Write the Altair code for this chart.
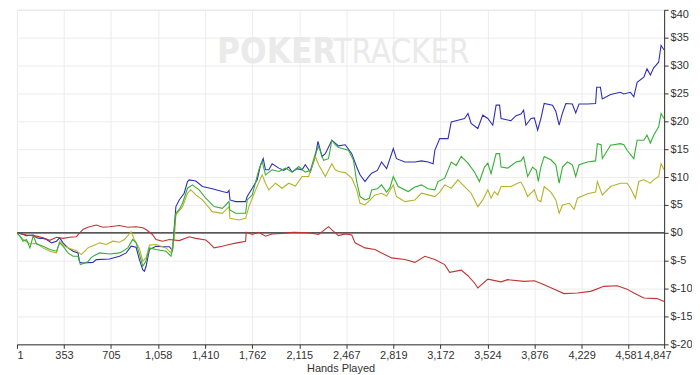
import altair as alt
import pandas as pd

# ---- data ----
blue_hands = [1, 48, 73, 123, 148, 172, 197, 222, 260, 297, 321, 346, 383, 421, 458, 471, 495, 570, 595, 694,
              769, 819, 856, 893, 918, 943, 955, 968, 993, 1042, 1092, 1142, 1166, 1179, 1191, 1216, 1253, 1278,
              1291, 1340, 1390, 1464, 1539, 1576, 1589, 1596, 1638, 1713, 1725, 1763, 1800, 1825, 1845, 1862,
              1887, 1912, 1962, 1999, 2036, 2061, 2098, 2136, 2160, 2198, 2235, 2255, 2285, 2310, 2359, 2384,
              2409, 2459, 2508, 2545, 2570, 2607, 2632, 2657, 2700, 2731, 2769, 2794, 2819, 2843, 2906, 2981,
              3030, 3080, 3117, 3130, 3167, 3229, 3253, 3303, 3353, 3378, 3402, 3452, 3489, 3527, 3564, 3589,
              3615, 3626, 3700, 3738, 3775, 3795, 3812, 3850, 3875, 3900, 3924, 3949, 4011, 4036, 4061, 4086,
              4111, 4160, 4185, 4210, 4272, 4334, 4342, 4370, 4384, 4446, 4520, 4545, 4595, 4620, 4645, 4695,
              4719, 4744, 4769, 4806, 4824, 4847]
blue_vals = [0, -0.3, -0.5, -0.4, -0.9, -1.0, -1.0, -1.2, -1.8, -1.5, -0.9, -1.8, -2.7, -3.3, -3.6, -5.3, -5.4,
             -5.3, -4.8, -4.7, -4.2, -3.6, -2.4, -2.6, -4.8, -6.6, -6.9, -6.0, -3.0, -2.4, -2.5, -2.5, -3.2, 1.0,
             4.7, 5.9, 7.1, 9.2, 9.5, 9.3, 8.3, 7.9, 7.4, 7.2, 7.6, 5.9, 5.6, 5.6, 6.5, 8.0, 9.5, 12.2, 13.3,
             11.3, 11.3, 12.4, 11.6, 11.2, 11.8, 10.9, 11.5, 11.3, 12.2, 10.9, 13.7, 16.4, 13.7, 14.2, 16.6,
             16.1, 15.6, 15.8, 14.2, 11.8, 10.4, 9.2, 10.0, 10.7, 11.2, 12.7, 11.5, 13.3, 15.1, 13.3, 12.7,
             12.7, 12.9, 12.7, 12.4, 14.8, 16.9, 16.9, 19.9, 20.2, 20.5, 21.4, 19.6, 18.7, 21.1, 20.5, 19.3,
             22.9, 22.9, 20.5, 20.1, 21.0, 21.3, 22.0, 19.3, 20.5, 20.6, 18.4, 20.5, 23.2, 22.9, 21.8, 19.3,
             21.5, 23.2, 23.1, 21.5, 23.1, 23.1, 23.2, 26.1, 26.1, 24.0, 24.8, 25.2, 24.9, 25.2, 24.4, 27.0,
             27.9, 29.4, 28.3, 29.6, 30.6, 33.6, 32.8]

green_hands = [1, 23, 48, 73, 98, 123, 148, 197, 247, 297, 321, 346, 383, 421, 458, 476, 532, 558, 595, 620,
               694, 769, 793, 831, 868, 893, 923, 943, 968, 993, 1042, 1117, 1154, 1166, 1179, 1191, 1216, 1241,
               1278, 1315, 1365, 1415, 1477, 1539, 1589, 1594, 1638, 1713, 1725, 1763, 1812, 1837, 1862, 1912,
               1962, 2011, 2061, 2111, 2160, 2198, 2235, 2260, 2297, 2334, 2359, 2384, 2409, 2484, 2521, 2545,
               2570, 2607, 2640, 2657, 2700, 2731, 2769, 2794, 2819, 2856, 2931, 2981, 3030, 3080, 3130, 3154,
               3204, 3253, 3290, 3328, 3378, 3427, 3464, 3502, 3527, 3551, 3589, 3615, 3626, 3676, 3738, 3775,
               3795, 3825, 3862, 3890, 3905, 3924, 3949, 3999, 4036, 4061, 4086, 4123, 4160, 4185, 4210, 4272,
               4334, 4347, 4375, 4384, 4446, 4520, 4545, 4570, 4620, 4645, 4695, 4719, 4744, 4769, 4806, 4824,
               4847]
green_vals = [0, -0.6, -1.5, -1.2, -2.7, -0.5, -2.0, -2.4, -3.0, -3.3, -1.8, -2.4, -3.6, -4.2, -4.2, -5.7, -5.2,
              -4.4, -3.9, -3.6, -3.8, -3.6, -3.3, -2.7, -1.2, -1.8, -4.2, -6.0, -5.0, -2.7, -3.0, -3.3, -4.2,
              -3.0, 0.6, 3.5, 4.2, 5.3, 8.0, 8.6, 7.7, 6.2, 4.7, 4.4, 5.6, 4.1, 3.5, 3.5, 5.9, 6.8, 11.3, 12.8,
              10.4, 11.3, 11.0, 11.6, 10.9, 11.9, 10.9, 11.2, 14.2, 15.5, 13.0, 13.3, 16.6, 15.8, 15.3, 14.8,
              13.0, 9.2, 6.5, 5.9, 6.2, 7.7, 7.9, 8.6, 7.3, 8.1, 10.1, 8.3, 7.4, 8.2, 8.6, 7.9, 7.7, 9.2, 9.8,
              12.7, 12.1, 13.7, 12.5, 10.9, 9.2, 11.8, 12.5, 10.6, 14.2, 14.2, 11.8, 11.6, 12.7, 12.9, 13.6,
              10.1, 11.8, 11.2, 9.2, 11.8, 13.7, 13.1, 12.2, 8.9, 11.8, 12.7, 12.2, 10.1, 12.2, 12.7, 12.9,
              16.0, 15.8, 13.3, 15.7, 16.0, 15.8, 14.8, 13.3, 16.6, 16.6, 17.5, 16.1, 17.5, 19.0, 21.4, 20.5]

olive_hands = [1, 48, 98, 148, 197, 247, 297, 321, 360, 396, 446, 483, 532, 570, 620, 670, 719, 769, 806, 856,
               880, 918, 943, 968, 993, 1042, 1117, 1154, 1179, 1191, 1241, 1278, 1303, 1340, 1390, 1464, 1539,
               1589, 1596, 1663, 1713, 1738, 1788, 1837, 1862, 1887, 1937, 1986, 2036, 2086, 2136, 2185, 2235,
               2260, 2310, 2359, 2384, 2409, 2459, 2508, 2545, 2570, 2607, 2645, 2682, 2731, 2769, 2819, 2843,
               2906, 2981, 3030, 3080, 3130, 3167, 3204, 3253, 3303, 3353, 3402, 3452, 3489, 3527, 3551, 3576,
               3601, 3626, 3700, 3750, 3775, 3800, 3825, 3875, 3900, 3924, 3949, 3999, 4036, 4061, 4086, 4136,
               4173, 4198, 4272, 4334, 4347, 4384, 4446, 4520, 4570, 4595, 4632, 4657, 4695, 4744, 4769, 4806,
               4824, 4847]
olive_vals = [0, -1.2, -2.0, -1.9, -2.7, -3.3, -3.6, -1.5, -2.4, -2.8, -3.2, -3.9, -2.7, -2.3, -1.8, -2.1, -1.5,
              -1.7, -1.2, 0.2, -1.2, -2.8, -5.1, -4.5, -2.2, -2.1, -2.7, -3.6, -1.0, 3.2, 4.7, 7.1, 7.7, 6.8,
              5.9, 3.8, 3.5, 4.7, 2.6, 2.3, 2.6, 4.7, 7.7, 10.4, 8.9, 7.7, 8.9, 8.0, 8.9, 8.4, 10.1, 10.1, 13.7,
              12.2, 10.1, 12.4, 11.3, 11.0, 10.8, 9.8, 7.7, 5.3, 5.0, 5.9, 6.8, 7.1, 6.6, 8.6, 6.5, 5.6, 5.9,
              7.1, 6.8, 6.5, 7.3, 8.6, 8.0, 9.5, 8.3, 7.1, 4.7, 5.9, 7.7, 6.2, 7.4, 6.8, 8.3, 8.3, 8.9, 9.1,
              8.0, 6.5, 7.7, 5.9, 5.6, 8.3, 7.3, 5.9, 3.5, 5.0, 5.3, 4.2, 6.2, 7.0, 7.3, 9.2, 6.8, 8.3, 8.9,
              8.9, 8.0, 6.2, 9.2, 9.5, 8.9, 9.5, 10.1, 12.4, 11.3]

red_hands = [1, 73, 148, 197, 247, 297, 346, 396, 446, 471, 495, 532, 595, 645, 694, 769, 830, 893, 943, 968,
             1015, 1042, 1092, 1142, 1216, 1291, 1340, 1415, 1440, 1477, 1539, 1589, 1650, 1713, 1718, 1763,
             1812, 1862, 1912, 1986, 2073, 2185, 2260, 2334, 2384, 2409, 2459, 2508, 2533, 2607, 2682, 2731,
             2806, 2906, 2981, 3055, 3130, 3204, 3241, 3328, 3378, 3427, 3452, 3527, 3626, 3676, 3800, 3875,
             3949, 4024, 4098, 4198, 4297, 4396, 4496, 4570, 4620, 4695, 4794, 4847]
red_vals = [0, -0.4, -0.6, -0.9, -1.35, -0.8, -1.0, -0.8, -0.7, 0.0, 0.6, 1.0, 1.4, 1.0, 1.1, 1.3, 1.0, 1.1, 0.9,
            0.6, -0.3, -1.2, -1.5, -1.2, -1.4, -0.7, -1.0, -1.3, -1.8, -2.7, -2.4, -2.1, -1.8, -1.5, 0.1, -0.3,
            0.1, -0.6, -0.2, -0.1, 0.1, 0.0, -0.3, 1.1, 0.0, -0.5, -0.2, -0.4, -1.8, -2.7, -3.0, -3.6, -4.5,
            -4.8, -5.3, -4.2, -4.8, -5.7, -7.1, -6.7, -7.7, -9.0, -9.9, -8.3, -8.8, -8.4, -8.7, -8.6, -9.3,
            -10.1, -10.9, -10.8, -10.5, -9.6, -9.5, -10.1, -10.8, -11.7, -11.8, -12.3]

x_ticks = [1, 353, 705, 1058, 1410, 1762, 2115, 2467, 2819, 3172, 3524, 3876, 4229, 4581, 4847]
y_ticks = [-20, -15, -10, -5, 0, 5, 10, 15, 20, 25, 30, 35, 40]

series = [
    ("blue", blue_hands, blue_vals, "#2f2fb9"),
    ("olive", olive_hands, olive_vals, "#b4b42c"),
    ("green", green_hands, green_vals, "#35b035"),
    ("red", red_hands, red_vals, "#c03434"),
]

W, H = 650, 336
FONT = "Liberation Sans"

x_scale = alt.Scale(domain=[1, 4847], nice=False, zero=False)
y_scale = alt.Scale(domain=[-20, 40], nice=False)

x_axis = alt.Axis(values=x_ticks, labelExpr="format(datum.value, ',')", grid=True, gridColor="#ececec",
                  domainColor="#333333", tickColor="#333333", tickSize=4,
                  labelColor="#333333", labelFontSize=11, labelFont=FONT, labelOverlap=False,
                  labelOffset=alt.condition("datum.value == 4847", alt.value(7), alt.value(0)),
                  labelPadding=1, title="Hands Played", titleFont=FONT, titleFontSize=11,
                  titleFontWeight="normal", titleColor="#333333", titlePadding=2)
y_axis = alt.Axis(orient="right", values=y_ticks, labelExpr="'$' + datum.value", grid=True,
                  gridColor="#ececec", domainColor="#333333", tickColor="#333333", tickSize=4,
                  labelColor="#333333", labelFontSize=11, labelFont=FONT, labelPadding=2,
                  labelOverlap=False, title=None,
                  labelBaseline=alt.condition("datum.value == 40", alt.value("top"), alt.value("middle")),
                  labelOffset=alt.condition("datum.value == 40", alt.value(-1), alt.value(0)))

base_df = pd.DataFrame({"hand": [1, 4847], "value": [-20, 40]})
base = alt.Chart(base_df).mark_point(opacity=0).encode(
    x=alt.X("hand:Q", scale=x_scale, axis=x_axis),
    y=alt.Y("value:Q", scale=y_scale, axis=y_axis),
)

mark_font = "'Liberation Sans Narrow', 'DejaVu Sans Condensed', 'Arial Narrow', sans-serif"
wm_df = pd.DataFrame({"t": ["POKER"]})
wm1 = alt.Chart(wm_df).mark_text(text="POKER", font=mark_font, fontSize=35, fontWeight="bold",
                                  color="#eaeaea", align="left", baseline="alphabetic").encode(
    x=alt.value(201), y=alt.value(53))
wm2 = alt.Chart(wm_df).mark_text(text="TRACKER", font=mark_font, fontSize=33, fontWeight="normal",
                                  color="#eaeaea", align="left", baseline="alphabetic").encode(
    x=alt.value(318), y=alt.value(53))

layers = [base, wm1, wm2]

zero = alt.Chart(pd.DataFrame({"v": [0]})).mark_rule(color="#222222", strokeWidth=1.2).encode(
    y=alt.Y("v:Q", scale=y_scale, axis=y_axis))
layers.append(zero)

for name, hs, vs, col in series:
    df = pd.DataFrame({"hand": hs, "value": vs})
    layers.append(
        alt.Chart(df).mark_line(color=col, strokeWidth=1.1, clip=True).encode(
            x=alt.X("hand:Q", scale=x_scale, axis=x_axis),
            y=alt.Y("value:Q", scale=y_scale, axis=y_axis),
        )
    )

chart = alt.layer(*layers).properties(
    width=W, height=H,
    autosize=alt.AutoSizeParams(type="none"),
    padding={"left": 9, "top": 1, "right": 28, "bottom": 30},
).configure_view(stroke="#555555", strokeWidth=1).configure(background="white")

chart.save("out.html", embed_options={"renderer": "svg", "actions": False})
